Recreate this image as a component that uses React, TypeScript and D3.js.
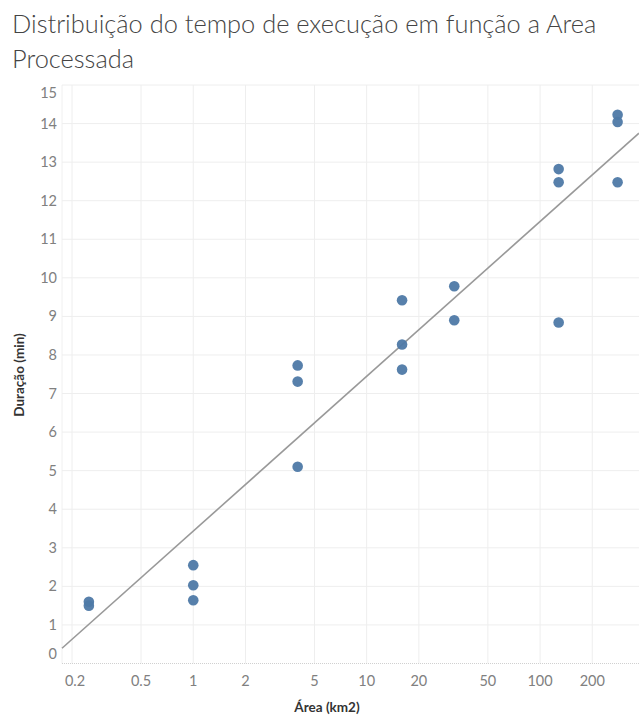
import React, { useEffect, useRef } from 'react';
import * as d3 from 'd3';

// Área (km2) e duração (min)
const areas = [0.25, 0.25, 1, 1, 1, 4, 4, 4, 16, 16, 16, 32, 32, 128, 128, 128, 280, 280, 280];
const durations = [1.6, 1.5, 2.55, 2.03, 1.64, 7.73, 7.31, 5.1, 9.42, 8.27, 7.62, 9.78, 8.9, 12.82, 12.48, 8.84, 14.23, 14.04, 12.48];

// linha de tendência (extremos)
const trendAreas = [0.175, 372];
const trendDurations = [0.395, 13.75];

const xTicks = [0.2, 0.5, 1, 2, 5, 10, 20, 50, 100, 200];
const yTicks = [0, 1, 2, 3, 4, 5, 6, 7, 8, 9, 10, 11, 12, 13, 14, 15];

const width = 639;
const height = 715;

const App = () => {
  const ref = useRef<SVGSVGElement | null>(null);

  useEffect(() => {
    const svg = d3.select(ref.current);
    svg.selectAll('*').remove();

    const left = 62;
    const right = 639;
    const top = 85;
    const bottom = 663.5;

    const x = d3.scaleLog().domain([0.175, 372]).range([left, right]);
    const y = d3.scaleLinear().domain([0, 15]).range([bottom, top]);

    const font = 'Lato, "Open Sans", sans-serif';

    // título
    const title = svg.append('text')
      .attr('x', 12)
      .attr('font-family', font)
      .attr('font-size', 25.4)
      .attr('font-weight', 300)
      .attr('fill', '#444');
    title.append('tspan').attr('x', 12).attr('y', 33).text('Distribuição do tempo de execução em função a Area');
    title.append('tspan').attr('x', 12).attr('y', 68).text('Processada');

    // grades
    svg.append('line')
      .attr('x1', left).attr('x2', left)
      .attr('y1', top).attr('y2', bottom)
      .attr('stroke', '#f0f0f0');

    svg.append('g')
      .selectAll('line')
      .data(yTicks.filter(d => d > 0))
      .join('line')
      .attr('x1', left).attr('x2', right)
      .attr('y1', d => y(d)).attr('y2', d => y(d))
      .attr('stroke', '#eeeeee');

    svg.append('g')
      .selectAll('line')
      .data(xTicks)
      .join('line')
      .attr('x1', d => x(d)).attr('x2', d => x(d))
      .attr('y1', top).attr('y2', bottom)
      .attr('stroke', '#eeeeee');

    svg.append('line')
      .attr('x1', left).attr('x2', right)
      .attr('y1', y(0)).attr('y2', y(0))
      .attr('stroke', '#d0d0d0')
      .attr('stroke-dasharray', '1,1');

    // rótulos dos eixos
    svg.append('g')
      .selectAll('text')
      .data(yTicks)
      .join('text')
      .attr('x', 57)
      .attr('y', d => Math.max(93, Math.min(654, y(d))))
      .attr('dy', '0.35em')
      .attr('text-anchor', 'end')
      .attr('font-family', font)
      .attr('font-size', 14.5)
      .attr('fill', '#808080')
      .text(d => d);

    svg.append('g')
      .selectAll('text')
      .data(xTicks)
      .join('text')
      .attr('x', d => x(d) + (d === 0.2 ? 3 : 0))
      .attr('y', 681)
      .attr('dy', '0.35em')
      .attr('text-anchor', 'middle')
      .attr('font-family', font)
      .attr('font-size', 14.5)
      .attr('fill', '#808080')
      .text(d => String(d));

    svg.append('text')
      .attr('x', 327)
      .attr('y', 707)
      .attr('dy', '0.35em')
      .attr('text-anchor', 'middle')
      .attr('font-family', font)
      .attr('font-size', 13.5)
      .attr('font-weight', 'bold')
      .attr('fill', '#333')
      .text('Área (km2)');

    svg.append('text')
      .attr('transform', 'translate(19,375) rotate(-90)')
      .attr('dy', '0.35em')
      .attr('text-anchor', 'middle')
      .attr('font-family', font)
      .attr('font-size', 13.5)
      .attr('font-weight', 'bold')
      .attr('fill', '#333')
      .text('Duração (min)');

    // tendência
    const line = d3.line<number>()
      .x((d, i) => x(trendAreas[i]))
      .y(d => y(d));
    svg.append('path')
      .attr('d', line(trendDurations))
      .attr('fill', 'none')
      .attr('stroke', '#999')
      .attr('stroke-width', 1.6);

    // pontos
    svg.append('g')
      .selectAll('circle')
      .data(areas)
      .join('circle')
      .attr('cx', d => x(d))
      .attr('cy', (d, i) => y(durations[i]))
      .attr('r', 5.3)
      .attr('fill', '#4e79a7')
      .attr('fill-opacity', 0.95);
  }, []);

  return (
    <svg
      ref={ref}
      width={width}
      height={height}
      style={{ position: 'absolute', left: 0, top: 0, background: '#fff' }}
    />
  );
};

export default App;
